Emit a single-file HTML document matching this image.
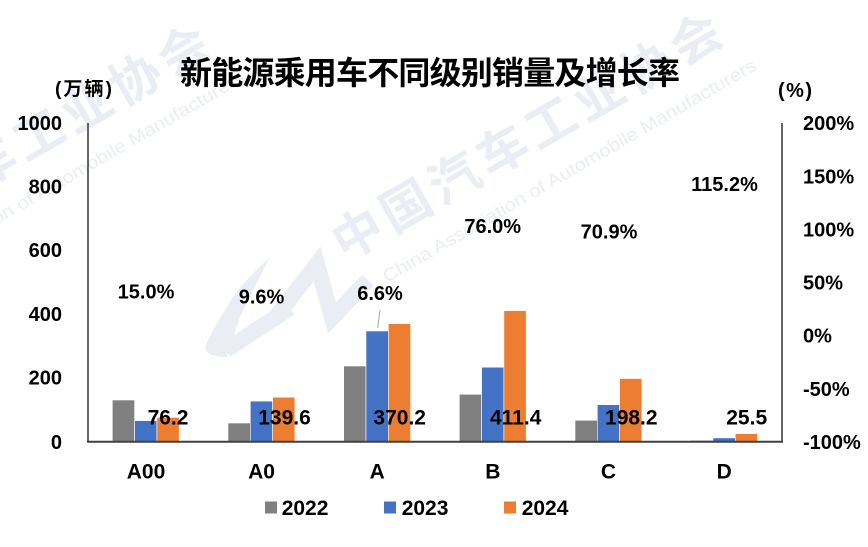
<!DOCTYPE html>
<html>
<head>
<meta charset="utf-8">
<style>
  html, body { margin: 0; padding: 0; background: #ffffff; }
  body { width: 868px; height: 547px; overflow: hidden; }
  svg { display: block; }
  .t { font-family: "Liberation Sans", "Noto Sans CJK SC", sans-serif; font-weight: bold; fill: #000; }
</style>
</head>
<body>
<svg width="868" height="547" viewBox="0 0 868 547" xmlns="http://www.w3.org/2000/svg">
  <rect width="868" height="547" fill="#ffffff"/>

  <!-- Watermarks -->
  <g fill="#eaeef4">
    <g transform="translate(345,262) rotate(-30)">
      <text x="0" y="0" font-family="'Noto Sans CJK SC', sans-serif" font-weight="bold" font-size="50" textLength="440" lengthAdjust="spacing">中国汽车工业协会</text>
    </g>
    <g transform="translate(387,283) rotate(-30)">
      <text x="0" y="0" font-family="'Liberation Sans', sans-serif" font-size="18" textLength="428" lengthAdjust="spacingAndGlyphs">China Association of Automobile Manufacturers</text>
    </g>
    <g transform="translate(-167,274) rotate(-30)">
      <text x="0" y="0" font-family="'Noto Sans CJK SC', sans-serif" font-weight="bold" font-size="50" textLength="440" lengthAdjust="spacing">中国汽车工业协会</text>
    </g>
    <g transform="translate(-125,295) rotate(-30)">
      <text x="0" y="0" font-family="'Liberation Sans', sans-serif" font-size="18" textLength="428" lengthAdjust="spacingAndGlyphs">China Association of Automobile Manufacturers</text>
    </g>
    <!-- logo -->
    <path d="M270,257 Q245,280 233,297 Q212,330 205,347 Q206,357 227,357 Q232,340 240,317 Q252,292 270,257 Z"/>
  </g>
  <g fill="none" stroke="#eaeef4" stroke-width="16" stroke-linejoin="miter">
    <path d="M226,350 L290,308"/>
    <path d="M275,318 L317,264 L332,318 L368,280"/>
  </g>

  <!-- Title -->
  <text x="180" y="84" font-family="'Noto Sans CJK SC', sans-serif" font-weight="bold" font-size="32" textLength="500" lengthAdjust="spacing" fill="#000">新能源乘用车不同级别销量及增长率</text>

  <!-- Axis unit labels -->
  <text class="t" x="55" y="95" font-size="19" textLength="57" lengthAdjust="spacing">(万辆)</text>
  <text class="t" x="778" y="97" font-size="20" textLength="34" lengthAdjust="spacing">(%)</text>

  <!-- Bars 2022 -->
  <g fill="#808080" stroke="#ffffff" stroke-width="0.6">
    <rect x="112.3" y="400.0" width="22.3" height="41.7"/>
    <rect x="228.0" y="423.0" width="22.3" height="18.7"/>
    <rect x="343.7" y="366.0" width="22.3" height="75.7"/>
    <rect x="459.3" y="394.3" width="22.3" height="47.4"/>
    <rect x="575.0" y="420.3" width="22.3" height="21.4"/>
    <rect x="690.7" y="440.3" width="22.3" height="1.4"/>
  </g>
  <!-- Bars 2023 -->
  <g fill="#4472c4" stroke="#ffffff" stroke-width="0.6">
    <rect x="134.6" y="420.6" width="22.3" height="21.1"/>
    <rect x="250.3" y="401.1" width="22.3" height="40.6"/>
    <rect x="366.0" y="331.0" width="22.3" height="110.7"/>
    <rect x="481.6" y="367.2" width="22.3" height="74.5"/>
    <rect x="597.3" y="404.7" width="22.3" height="37.0"/>
    <rect x="713.0" y="437.9" width="22.3" height="3.8"/>
  </g>
  <!-- Bars 2024 -->
  <g fill="#ed7d31" stroke="#ffffff" stroke-width="0.6">
    <rect x="156.9" y="417.4" width="22.3" height="24.3"/>
    <rect x="272.6" y="397.2" width="22.3" height="44.5"/>
    <rect x="388.3" y="323.7" width="22.3" height="118.0"/>
    <rect x="503.9" y="310.6" width="22.3" height="131.1"/>
    <rect x="619.6" y="378.5" width="22.3" height="63.2"/>
    <rect x="735.3" y="433.6" width="22.3" height="8.1"/>
  </g>

  <!-- Axes -->
  <line x1="88" y1="123" x2="88" y2="442" stroke="#333" stroke-width="1.5"/>
  <line x1="782" y1="123" x2="782" y2="442" stroke="#333" stroke-width="1.5"/>
  <line x1="87" y1="441.7" x2="783" y2="441.7" stroke="#404040" stroke-width="2"/>

  <!-- Left ticks -->
  <g class="t" font-size="20" text-anchor="end">
    <text x="62" y="130">1000</text>
    <text x="62" y="193.5">800</text>
    <text x="62" y="257">600</text>
    <text x="62" y="321">400</text>
    <text x="62" y="384.5">200</text>
    <text x="62" y="449">0</text>
  </g>

  <!-- Right ticks -->
  <g class="t" font-size="20" text-anchor="start">
    <text x="803" y="130">200%</text>
    <text x="803" y="183.3">150%</text>
    <text x="803" y="236.4">100%</text>
    <text x="803" y="289.6">50%</text>
    <text x="803" y="342.7">0%</text>
    <text x="803" y="395.8">-50%</text>
    <text x="803" y="449">-100%</text>
  </g>

  <!-- Category labels -->
  <g class="t" font-size="21" text-anchor="middle">
    <text x="146" y="478.5">A00</text>
    <text x="261.5" y="478.5">A0</text>
    <text x="377.2" y="478.5">A</text>
    <text x="492.8" y="478.5">B</text>
    <text x="608.5" y="478.5">C</text>
    <text x="724.2" y="478.5">D</text>
  </g>

  <!-- Value labels -->
  <g class="t" font-size="21" text-anchor="middle">
    <text x="168" y="424.3">76.2</text>
    <text x="284.5" y="424.3">139.6</text>
    <text x="399.7" y="424.3">370.2</text>
    <text x="515.7" y="424.3">411.4</text>
    <text x="631.3" y="424.3">198.2</text>
    <text x="746.7" y="424.3">25.5</text>
  </g>

  <!-- Growth labels -->
  <line x1="380" y1="310" x2="377.7" y2="328" stroke="#a6a6a6" stroke-width="1"/>
  <g class="t" font-size="20" text-anchor="middle">
    <text x="146" y="298.5">15.0%</text>
    <text x="261.5" y="303.5">9.6%</text>
    <text x="380" y="300">6.6%</text>
    <text x="492.7" y="232.8">76.0%</text>
    <text x="609" y="238.5">70.9%</text>
    <text x="724.5" y="191">115.2%</text>
  </g>

  <!-- Legend -->
  <rect x="265" y="501.5" width="12" height="12" fill="#808080"/>
  <text class="t" x="281.7" y="515" font-size="21">2022</text>
  <rect x="384" y="501.5" width="12" height="12" fill="#4472c4"/>
  <text class="t" x="401.7" y="515" font-size="21">2023</text>
  <rect x="504" y="501.5" width="12" height="12" fill="#ed7d31"/>
  <text class="t" x="521.7" y="515" font-size="21">2024</text>
</svg>
</body>
</html>
